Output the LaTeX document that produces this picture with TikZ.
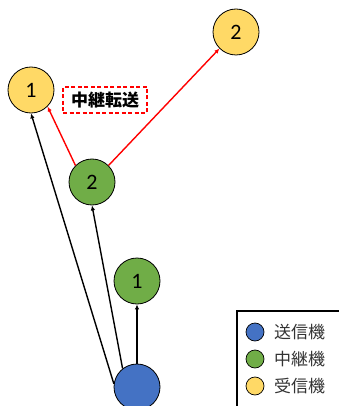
\documentclass[tikz,border=0pt]{standalone}
\usepackage{fontspec}
\setmainfont{Carlito}
\newfontfamily\jp{Noto Sans CJK JP}
\usetikzlibrary{arrows.meta}
\definecolor{cblue}{HTML}{4472C4}
\definecolor{cgreen}{HTML}{70AD47}
\definecolor{cyellow}{HTML}{FFD966}
\tikzset{
  dev/.style={circle,draw=black,line width=0.8pt,minimum size=46pt,inner sep=0pt,font=\fontsize{22}{22}\selectfont},
  sender/.style={dev,fill=cblue},
  relay/.style={dev,fill=cgreen},
  recv/.style={dev,fill=cyellow},
  link/.style={line width=1.4pt,-{Latex[length=5pt,width=4.5pt]}},
  fwd/.style={link,draw=red},
  legdot/.style={circle,draw=black,line width=0.7pt,minimum size=18pt,inner sep=0pt},
  legtext/.style={anchor=west,inner sep=0pt,text=black!80,font=\jp\fontsize{17}{17}\selectfont},
}
\begin{document}
\begin{tikzpicture}[x=1pt,y=-1pt]
\useasboundingbox (0,0) rectangle (338,406);
\node[recv] (r1) at (31,90) {1};
\node[recv] (r2) at (236,32) {2};
\node[relay] (m2) at (92,182) {2};
\node[relay] (m1) at (137,281) {1};
\node[sender] (s) at (137,387) {};
\node[draw=red,dashed,dash pattern=on 4pt off 2.5pt,line width=1.2pt,minimum width=84pt,minimum height=26pt,inner sep=0pt,font=\jp\bfseries\fontsize{17}{17}\selectfont] (lbl) at (105,100) {中継転送};
\draw[link] (s.north) -- (m1.south);
\draw[link] (s.128) -- (m2.south);
\draw[link] (s.172) -- (r1.south);
\draw[fwd] (m2.135) -- (r1.-45);
\draw[fwd] (m2.45) -- (r2.225);
\draw[line width=1.3pt] (237,420) |- (345,311);
\node[legdot,fill=cblue] (l1) at (255,332) {};
\node[legdot,fill=cgreen] (l2) at (255,359) {};
\node[legdot,fill=cyellow] (l3) at (255,386) {};
\node[legtext] (t1) at (274,332) {送信機};
\node[legtext] (t2) at (274,359) {中継機};
\node[legtext] (t3) at (274,386) {受信機};
\end{tikzpicture}
\end{document}
